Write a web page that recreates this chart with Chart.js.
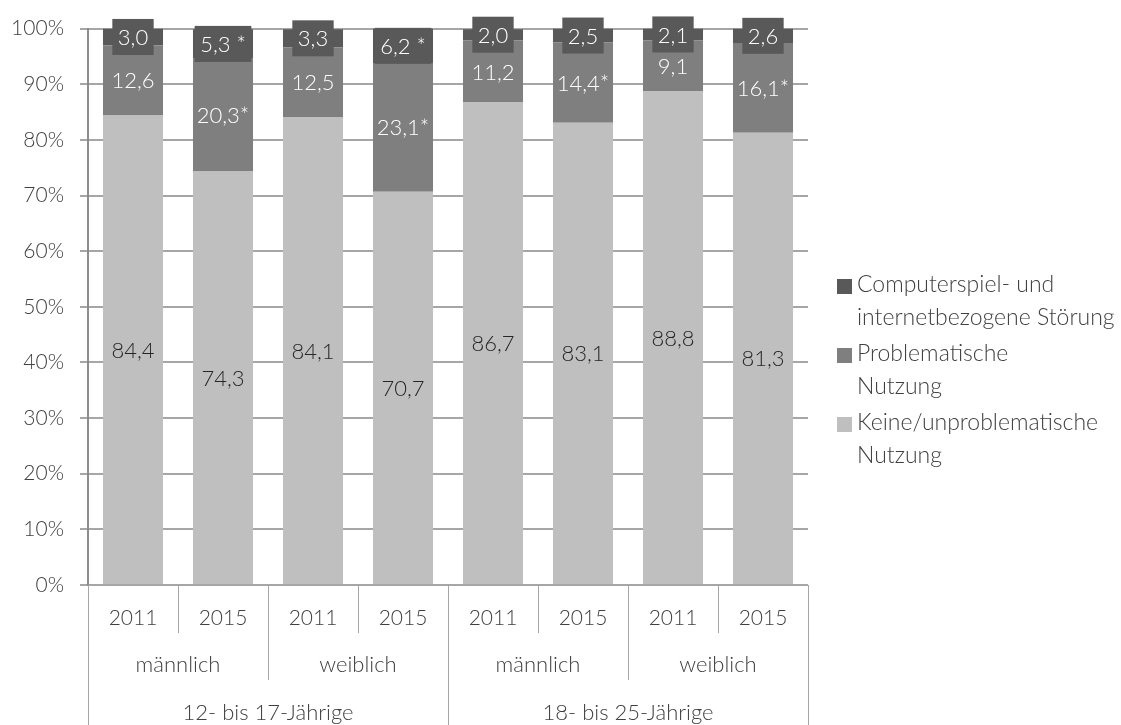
<!DOCTYPE html>
<html lang="de">
<head>
<meta charset="utf-8">
<title>Computerspiel- und Internetnutzung</title>
<script src="https://cdn.jsdelivr.net/npm/chart.js@4/dist/chart.umd.min.js"></script>
<style>
  html, body { margin: 0; padding: 0; background: #fff; }
  #wrap { width: 1121px; height: 725px; position: relative; }
</style>
</head>
<body>
<div id="wrap"><canvas id="nutzungChart"></canvas></div>
<script>
const FONT = "Lato, 'Open Sans', sans-serif";

const years = ["2011", "2015", "2011", "2015", "2011", "2015", "2011", "2015"];
const genders = ["männlich", "weiblich", "männlich", "weiblich"];
const ageGroups = ["12- bis 17-Jährige", "18- bis 25-Jährige"];

const keine = [84.4, 74.3, 84.1, 70.7, 86.7, 83.1, 88.8, 81.3];
const problematisch = [12.6, 20.3, 12.5, 23.1, 11.2, 14.4, 9.1, 16.1];
const stoerung = [3.0, 5.3, 3.3, 6.2, 2.0, 2.5, 2.1, 2.6];

// significance markers printed after the values
const problematischSig = ["", "*", "", "*", "", "*", "", "*"];
const stoerungSig = ["", " *", "", " *", "", "", "", ""];

const yTicks = [0, 10, 20, 30, 40, 50, 60, 70, 80, 90, 100];

const fmt = (v) => v.toFixed(1).replace(".", ",");

// value labels in the middle of every segment
const segmentLabels = {
  id: "segmentLabels",
  afterDatasetsDraw(chart) {
    const ctx = chart.ctx;
    ctx.save();
    ctx.font = "300 22px " + FONT;
    ctx.textAlign = "center";
    ctx.textBaseline = "middle";
    chart.data.datasets.forEach((ds, di) => {
      const meta = chart.getDatasetMeta(di);
      meta.data.forEach((bar, i) => {
        const text = fmt(ds.data[i]) + (ds.marks ? ds.marks[i] : "");
        const cy = (bar.y + bar.base) / 2;
        if (ds.boxed) {
          const w = Math.min(ctx.measureText(text).width + 11, bar.width);
          ctx.fillStyle = ds.backgroundColor;
          ctx.fillRect(bar.x - w / 2, cy - 18, w, 36);
        }
        ctx.fillStyle = ds.labelColor;
        ctx.fillText(text, bar.x, cy + 1);
      });
    });
    ctx.restore();
  },
};

// three-row category axis: year / gender / age group
const groupedAxis = {
  id: "groupedAxis",
  afterDraw(chart) {
    const { ctx, chartArea, scales } = chart;
    const x = scales.x;
    const step = x.getPixelForValue(1) - x.getPixelForValue(0);
    const edge = (i) => x.getPixelForValue(i) - step / 2;
    const top = chartArea.bottom;
    ctx.save();
    ctx.strokeStyle = "#a6a6a6";
    ctx.lineWidth = 1;
    const vline = (px, y2) => {
      ctx.beginPath();
      ctx.moveTo(Math.round(px) + 0.5, top);
      ctx.lineTo(Math.round(px) + 0.5, y2);
      ctx.stroke();
    };
    for (let i = 0; i <= years.length; i++) {
      if (i % 4 === 0) vline(edge(i), chart.height);
      else if (i % 2 === 0) vline(edge(i), top + 95);
      else vline(edge(i), top + 48);
    }
    ctx.fillStyle = "#404040";
    ctx.font = "300 21px " + FONT;
    ctx.textAlign = "center";
    ctx.textBaseline = "middle";
    years.forEach((t, i) => ctx.fillText(t, x.getPixelForValue(i), top + 33));
    ctx.font = "300 22px " + FONT;
    genders.forEach((t, g) => ctx.fillText(t, (edge(g * 2) + edge(g * 2 + 2)) / 2, top + 80));
    ageGroups.forEach((t, a) => ctx.fillText(t, (edge(a * 4) + edge(a * 4 + 4)) / 2, top + 128));
    ctx.restore();
  },
};

// legend on the right, two lines per entry
const sideLegend = {
  id: "sideLegend",
  afterDraw(chart) {
    const { ctx, chartArea } = chart;
    const items = chart.data.datasets.slice().reverse();
    const x0 = chartArea.right + 29;
    ctx.save();
    ctx.font = "300 23px " + FONT;
    ctx.textBaseline = "middle";
    items.forEach((ds, i) => {
      const y = 285 + i * 69;
      ctx.fillStyle = ds.backgroundColor;
      ctx.fillRect(x0, y - 6, 15, 15);
      ctx.fillStyle = "#404040";
      ds.legendLines.forEach((line, l) => ctx.fillText(line, x0 + 20, y + l * 33));
    });
    ctx.restore();
  },
};

new Chart(document.getElementById("nutzungChart"), {
  type: "bar",
  data: {
    labels: years,
    datasets: [
      {
        label: "Keine/unproblematische Nutzung",
        legendLines: ["Keine/unproblematische", "Nutzung"],
        data: keine,
        backgroundColor: "#bfbfbf",
        labelColor: "#262626",
      },
      {
        label: "Problematische Nutzung",
        legendLines: ["Problematische", "Nutzung"],
        data: problematisch,
        marks: problematischSig,
        backgroundColor: "#7f7f7f",
        labelColor: "#ffffff",
      },
      {
        label: "Computerspiel- und internetbezogene Störung",
        legendLines: ["Computerspiel- und", "internetbezogene Störung"],
        data: stoerung,
        marks: stoerungSig,
        backgroundColor: "#595959",
        labelColor: "#ffffff",
        boxed: true,
      },
    ],
  },
  options: {
    responsive: true,
    maintainAspectRatio: false,
    animation: false,
    layout: { padding: { top: 24, right: 313, left: 0, bottom: 0 } },
    datasets: { bar: { categoryPercentage: 1, barPercentage: 0.667 } },
    plugins: { legend: { display: false }, tooltip: { enabled: false } },
    scales: {
      x: {
        stacked: true,
        grid: { display: false },
        border: { display: false },
        ticks: { display: false },
        afterFit: (s) => { s.height = 140; },
      },
      y: {
        stacked: true,
        min: 0,
        max: 100,
        afterBuildTicks: (s) => { s.ticks = yTicks.map((v) => ({ value: v })); },
        afterFit: (s) => { s.width = 88; },
        grid: { color: "#a6a6a6", lineWidth: 2, tickLength: 8, drawTicks: true },
        border: { display: true, color: "#8c8c8c", width: 2 },
        ticks: {
          color: "#404040",
          font: { family: FONT, size: 21, weight: 300 },
          padding: 16,
          callback: (v) => v + "%",
        },
      },
    },
  },
  plugins: [segmentLabels, groupedAxis, sideLegend],
});
</script>
</body>
</html>
